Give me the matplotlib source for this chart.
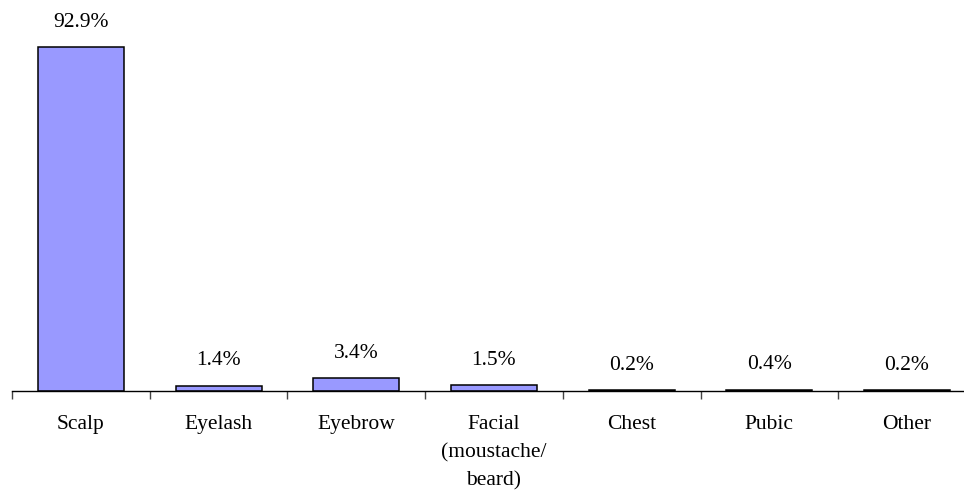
import matplotlib.pyplot as plt
import numpy as np

categories = ["Scalp", "Eyelash", "Eyebrow", "Facial\n(moustache/\nbeard)",
              "Chest", "Pubic", "Other"]
values = [92.9, 1.4, 3.4, 1.5, 0.2, 0.4, 0.2]
labels = ["92.9%", "1.4%", "3.4%", "1.5%", "0.2%", "0.4%", "0.2%"]

plt.rcParams["font.family"] = ["Liberation Serif", "DejaVu Serif"]

fig = plt.figure(figsize=[9.64, 4.93], dpi=100)
fig.patch.set_facecolor("white")
ax = fig.add_axes([12 / 964, 102 / 493, 963.9 / 964, 0.7503])

x = np.arange(len(categories))
ax.bar(x, values, width=0.625, color="#9999FF", edgecolor="black", linewidth=1.1)

for xi, v, lab in zip(x, values, labels):
    ax.annotate(lab, (xi, v), xytext=(0, 18), textcoords="offset points",
                ha="center", va="center", fontsize=15.5)

ax.set_xlim(-0.5, 6.5)
ax.set_ylim(0, 100)
for side in ["top", "right", "left"]:
    ax.spines[side].set_visible(False)
ax.spines["bottom"].set_color("black")
ax.spines["bottom"].set_linewidth(1.0)
ax.set_yticks([])

ax.set_xticks(x)
ax.set_xticklabels(categories, fontsize=15.5, linespacing=1.65, va="top")
ax.tick_params(axis="x", which="major", length=0, pad=17)
ax.set_xticks(np.arange(-0.5, 7, 1), minor=True)
ax.tick_params(axis="x", which="minor", length=6, width=1.0, color="#444444")

fig.savefig("out.png", dpi=100)
plt.close()
